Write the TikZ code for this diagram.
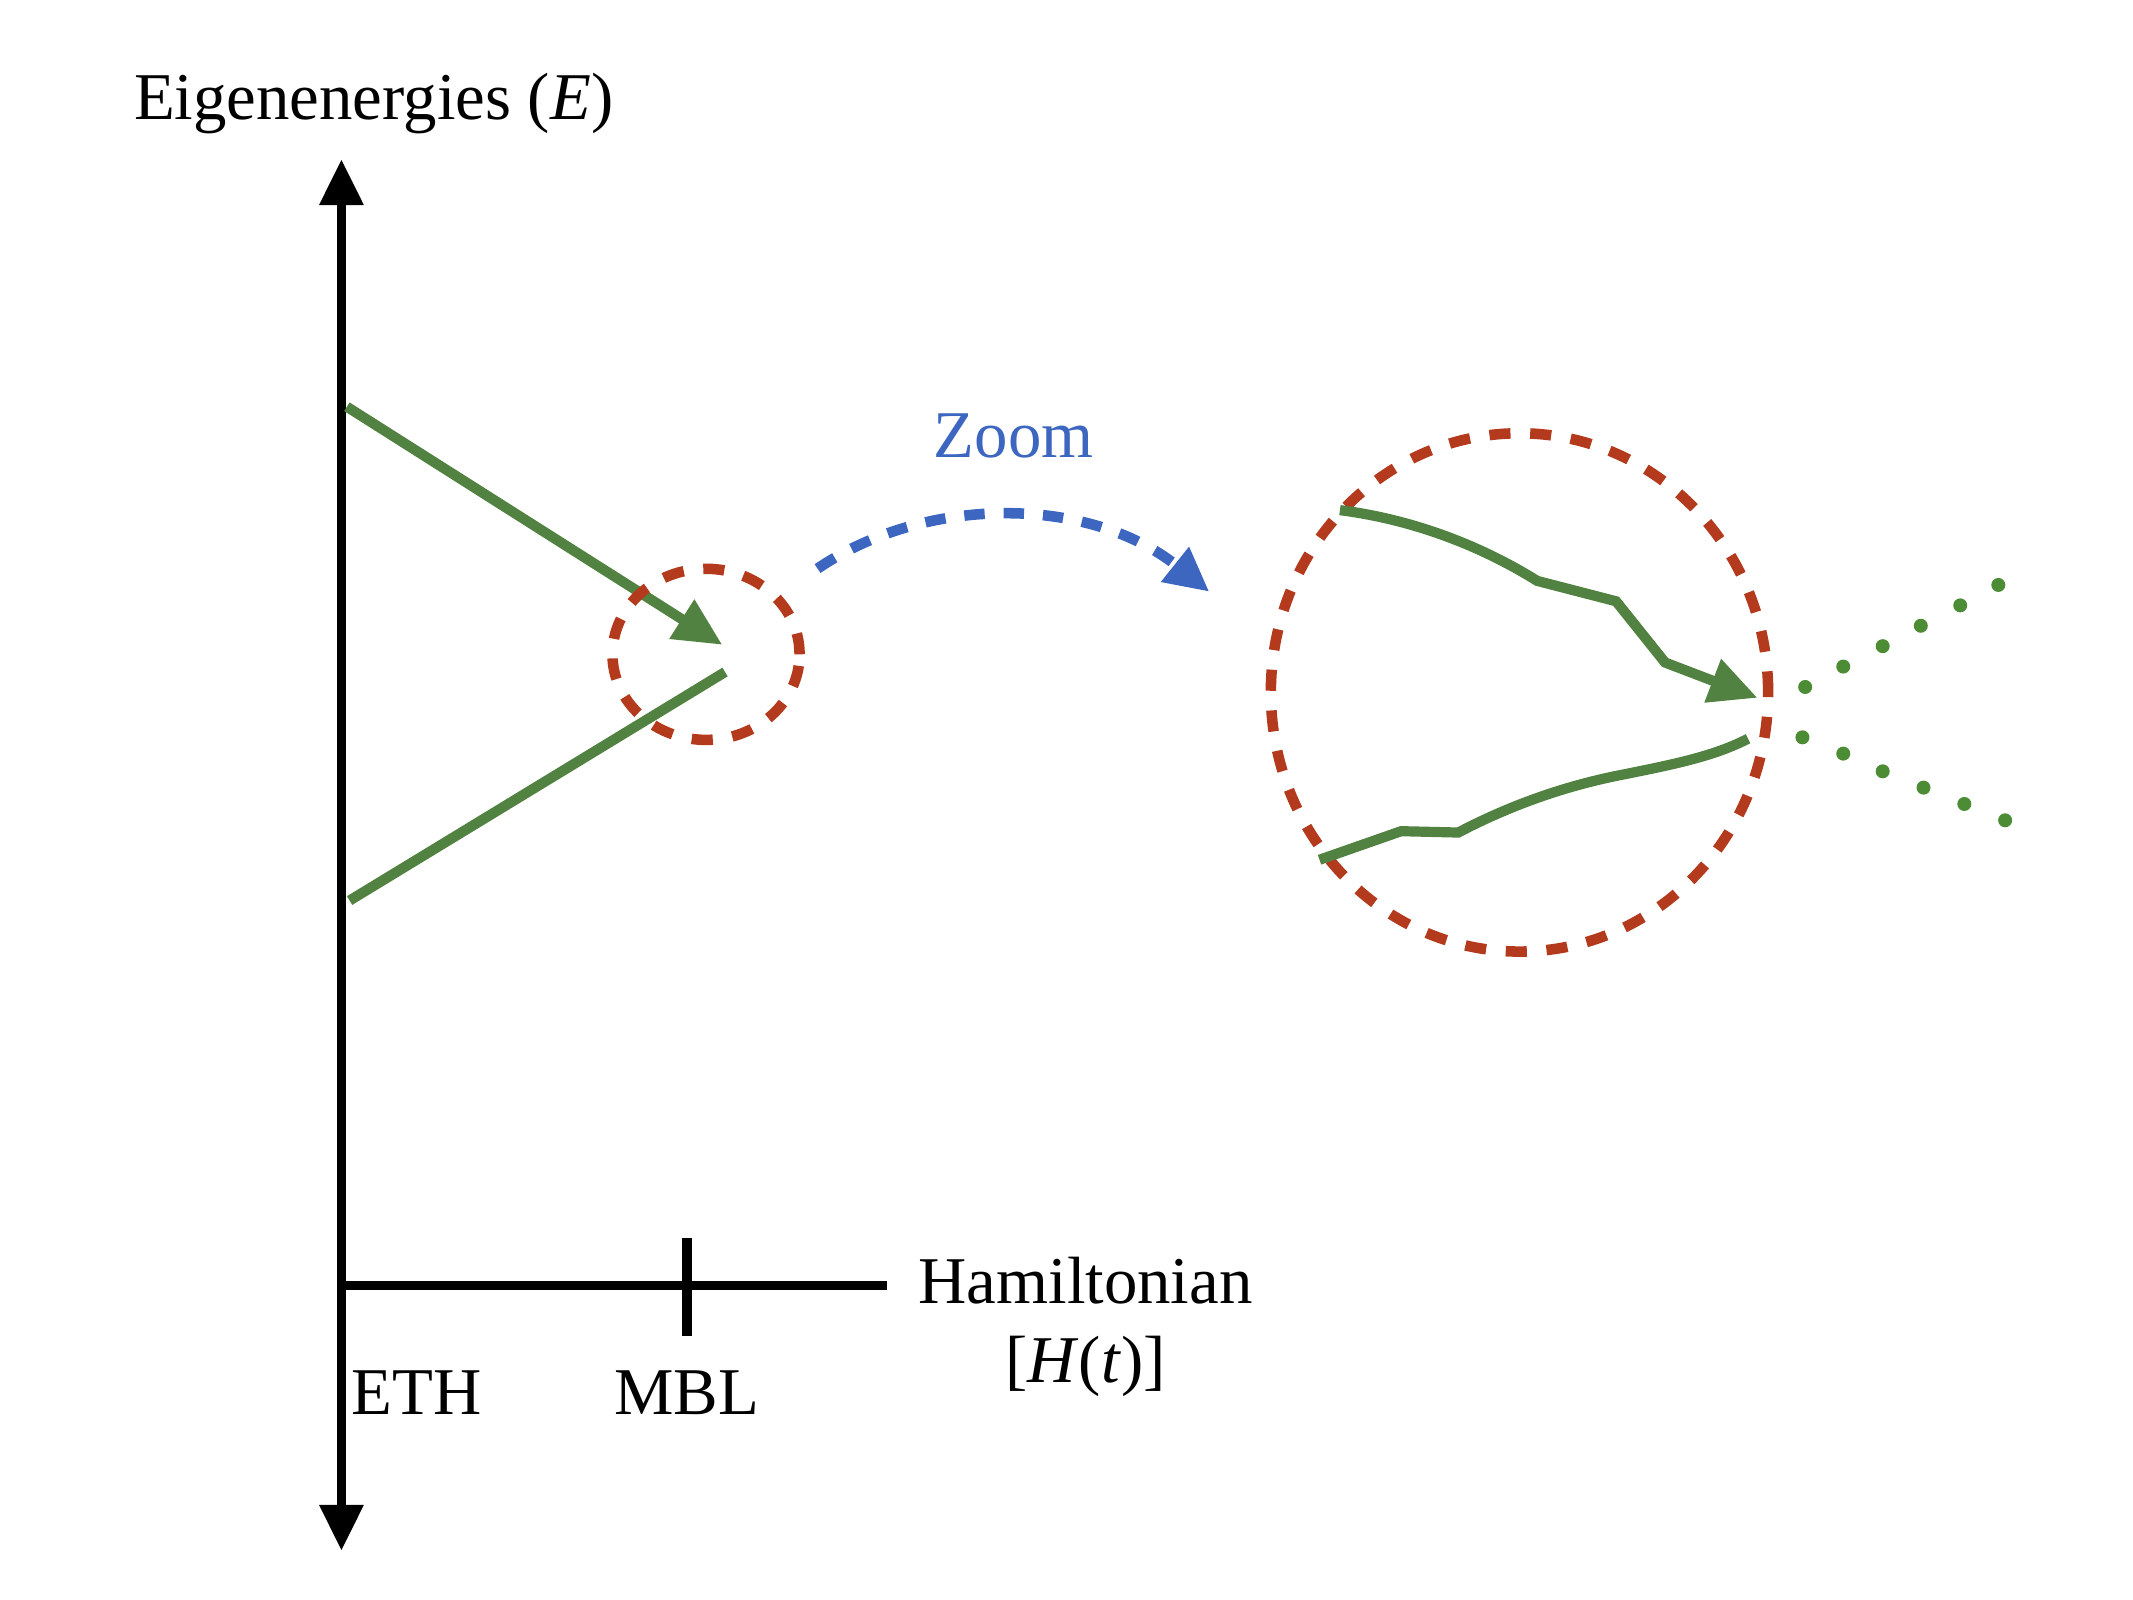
\documentclass[tikz,border=0pt]{standalone}
\usepackage{fontspec}
\setmainfont{Liberation Serif}
\usetikzlibrary{arrows.meta,shapes.geometric}
\definecolor{grn}{RGB}{82,130,66}
\definecolor{dotgrn}{RGB}{76,140,52}
\definecolor{rd}{RGB}{180,58,30}
\definecolor{bl}{RGB}{60,102,192}
\begin{document}
\begin{tikzpicture}[x=0.013603cm,y=-0.013603cm,
  axis/.style={line width=2.8pt,black},
  gline/.style={line width=2.9pt,grn},
  rdash/.style={draw=rd,line width=3pt,dash pattern=on 6pt off 5.6pt,ellipse,inner sep=0pt,outer sep=0pt},
  bdash/.style={line width=3pt,bl,dash pattern=on 5.8pt off 5.4pt},
  lbl/.style={font=\fontsize{19}{23}\selectfont,inner sep=0pt},
  gdot/.style={circle,fill=dotgrn,inner sep=0pt,minimum width=0.12cm,minimum height=0.14cm}
]
\useasboundingbox (0,0) rectangle (1568,1176);

% axes
\coordinate (vtop) at (251,117);
\coordinate (vbot) at (251,1140);
\draw[axis,{Triangle[length=0.46cm,width=0.42cm]}-{Triangle[length=0.46cm,width=0.42cm]}] (vtop) -- (vbot);
\coordinate (hO) at (251,945);
\coordinate (hE) at (652,945);
\draw[axis] (hO) -- (hE);
\coordinate (tk1) at (505,910);
\coordinate (tk2) at (505,982);
\draw[axis] (tk1) -- (tk2);

% labels
\node[lbl,anchor=base west] (ylab) at (98,88) {Eigenenergies (\textit{E})};
\node[lbl,anchor=base west] (eth) at (258,1040) {ETH};
\node[lbl,anchor=base] (mbl) at (505,1040) {MBL};
\node[lbl,anchor=base] (ham) at (798,958) {Hamiltonian};
\node[lbl,anchor=base] (hamt) at (798,1016) {[\textit{H}(\textit{t})]};
\node[lbl,anchor=base west,text=bl] (zoom) at (686,336) {Zoom};

% left green lines
\coordinate (g1s) at (255,299);
\coordinate (g1e) at (531,474);
\coordinate (g2s) at (257,662);
\coordinate (g2e) at (533,494);
\draw[gline,-{Triangle[length=0.48cm,width=0.44cm]}] (g1s) -- (g1e);
\draw[gline] (g2s) -- (g2e);

% circles
\node[rdash,minimum width=1.87cm,minimum height=1.71cm] (small) at (519,481) {};
\node[rdash,minimum width=4.97cm,minimum height=5.18cm] (big) at (1117,509) {};

% zoom arrow
\coordinate (bs) at (601,418);
\coordinate (be) at (889,435);
\draw[bdash,-{Triangle[length=0.44cm,width=0.42cm]}] (bs) .. controls (680,364) and (800,364) .. (be);

% zoomed green curves
\coordinate (u0) at (985,375);
\coordinate (u1) at (1130,427);
\coordinate (u2) at (1188,442);
\coordinate (u3) at (1224,487);
\coordinate (u4) at (1292,513);
\draw[gline,-{Triangle[length=0.48cm,width=0.44cm]}] (u0) .. controls (1040,382) and (1090,402) .. (u1) -- (u2) -- (u3) -- (u4);
\coordinate (l0) at (970,632);
\coordinate (l1) at (1030,611);
\coordinate (l2) at (1072,612);
\coordinate (l3) at (1190,570);
\coordinate (l4) at (1285,543);
\draw[gline] (l0) -- (l1) -- (l2) .. controls (1110,592) and (1150,578) .. (l3) .. controls (1230,562) and (1260,556) .. (l4);

% dots
\foreach \i/\x/\y in {1/1327/505,2/1355/490,3/1384/475,4/1412/460,5/1441/445,6/1469/430}
  \node[gdot] (du\i) at (\x,\y) {};
\foreach \i/\x/\y in {1/1325/542,2/1355/554,3/1384/567,4/1414/579,5/1444/591,6/1474/603}
  \node[gdot] (dl\i) at (\x,\y) {};
\end{tikzpicture}
\end{document}
